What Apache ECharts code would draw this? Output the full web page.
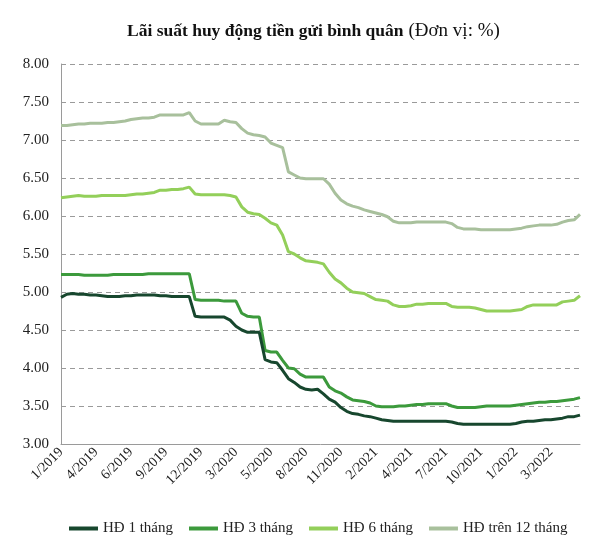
<!DOCTYPE html>
<html>
<head>
<meta charset="utf-8">
<script src="https://cdn.jsdelivr.net/npm/echarts@6/dist/echarts.min.js"></script>
<style>
html,body{margin:0;padding:0;background:#fff;}
#chart{width:600px;height:555px;}
</style>
</head>
<body>
<div id="chart"></div>
<script>
// Tick labels shown on the x axis (one every 6 bi-weekly points)
const tickLabels = ['1/2019','4/2019','6/2019','9/2019','12/2019','3/2020','5/2020','8/2020','11/2020','2/2021','4/2021','7/2021','10/2021','1/2022','3/2022'];
const pointsPerLabel = 6;

const seriesNames = ['HĐ 1 tháng','HĐ 3 tháng','HĐ 6 tháng','HĐ trên 12 tháng'];

const hd1 = [4.93,4.97,4.98,4.97,4.97,4.96,4.96,4.95,4.94,4.94,4.94,4.95,4.95,4.96,4.96,4.96,4.96,4.95,4.95,4.94,4.94,4.94,4.94,
  4.68,4.67,4.67,4.67,4.67,4.67,4.63,4.55,4.50,4.47,4.47,4.47,4.11,4.08,4.07,3.97,3.86,3.81,3.75,3.72,3.71,3.72,3.66,3.59,3.55,3.48,3.43,3.40,3.39,3.37,3.36,3.34,3.32,3.31,3.30,
  3.30,3.30,3.30,3.30,3.30,3.30,3.30,3.30,3.30,3.29,3.27,3.26,3.26,3.26,3.26,3.26,3.26,3.26,3.26,3.26,3.27,3.29,3.30,3.30,3.31,3.32,3.32,3.33,3.34,3.36,3.36,3.38];

const hd3 = [5.23,5.23,5.23,5.23,5.22,5.22,5.22,5.22,5.22,5.23,5.23,5.23,5.23,5.23,5.23,5.24,5.24,5.24,5.24,5.24,5.24,5.24,5.24,
  4.90,4.89,4.89,4.89,4.89,4.88,4.88,4.88,4.72,4.68,4.67,4.67,4.23,4.21,4.21,4.10,4.00,3.99,3.92,3.88,3.88,3.88,3.88,3.75,3.70,3.67,3.62,3.58,3.57,3.56,3.54,3.50,3.49,3.49,3.49,
  3.50,3.50,3.51,3.52,3.52,3.53,3.53,3.53,3.53,3.50,3.48,3.48,3.48,3.48,3.49,3.50,3.50,3.50,3.50,3.50,3.51,3.52,3.53,3.54,3.55,3.55,3.56,3.56,3.57,3.58,3.59,3.61];

const hd6 = [6.24,6.25,6.26,6.27,6.26,6.26,6.26,6.27,6.27,6.27,6.27,6.27,6.28,6.29,6.29,6.30,6.31,6.34,6.34,6.35,6.35,6.36,6.38,
  6.29,6.28,6.28,6.28,6.28,6.28,6.27,6.25,6.12,6.05,6.03,6.02,5.97,5.91,5.88,5.75,5.53,5.50,5.45,5.41,5.40,5.39,5.37,5.26,5.17,5.12,5.05,5.00,4.99,4.98,4.94,4.90,4.89,4.88,4.83,
  4.81,4.81,4.82,4.84,4.84,4.85,4.85,4.85,4.85,4.81,4.80,4.80,4.80,4.79,4.77,4.75,4.75,4.75,4.75,4.75,4.76,4.77,4.81,4.83,4.83,4.83,4.83,4.83,4.87,4.88,4.89,4.95];

const hd12 = [7.19,7.19,7.20,7.21,7.21,7.22,7.22,7.22,7.23,7.23,7.24,7.25,7.27,7.28,7.29,7.29,7.30,7.33,7.33,7.33,7.33,7.33,7.36,
  7.25,7.21,7.21,7.21,7.21,7.26,7.24,7.23,7.15,7.09,7.07,7.06,7.04,6.96,6.93,6.90,6.58,6.54,6.50,6.49,6.49,6.49,6.49,6.42,6.30,6.21,6.16,6.13,6.11,6.08,6.06,6.04,6.02,5.99,5.93,
  5.91,5.91,5.91,5.92,5.92,5.92,5.92,5.92,5.92,5.90,5.85,5.83,5.83,5.83,5.82,5.82,5.82,5.82,5.82,5.82,5.83,5.84,5.86,5.87,5.88,5.88,5.88,5.89,5.92,5.94,5.95,6.02];

const yTicks = {min: 3, max: 8, step: 0.5};

const categories = hd1.map((_, i) => (i % pointsPerLabel === 0 && tickLabels[i / pointsPerLabel]) ? tickLabels[i / pointsPerLabel] : '');

const colors = ['#17472e', '#3c9a3c', '#93cf5a', '#a8c09c'];
const serif = '"Liberation Serif", "DejaVu Serif", serif';

const chart = echarts.init(document.getElementById('chart'), null, {renderer: 'canvas'});
chart.setOption({
  animation: false,
  backgroundColor: '#fff',
  color: colors,
  title: {
    left: 122,
    top: 17,
    text: '{b|Lãi suất huy động tiền gửi bình quân} {n|(Đơn vị: %)}',
    textStyle: {
      rich: {
        b: {fontFamily: serif, fontWeight: 'bold', fontSize: 17.5, color: '#111'},
        n: {fontFamily: serif, fontWeight: 'normal', fontSize: 19, color: '#111'}
      }
    }
  },
  legend: {
    bottom: 14,
    left: 64,
    itemWidth: 29,
    itemHeight: 4,
    itemGap: 16,
    icon: 'rect',
    textStyle: {fontFamily: serif, fontSize: 15, color: '#222'},
    data: seriesNames
  },
  grid: {left: 61, right: 20, top: 64, bottom: 111, containLabel: false},
  xAxis: {
    type: 'category',
    boundaryGap: false,
    data: categories,
    axisLine: {show: true, lineStyle: {color: '#9a9a9a', width: 1}},
    axisTick: {show: false},
    axisLabel: {
      interval: pointsPerLabel - 1,
      rotate: 45,
      margin: 6,
      fontFamily: serif,
      fontSize: 14,
      color: '#222'
    },
    splitLine: {show: false}
  },
  yAxis: {
    type: 'value',
    min: yTicks.min,
    max: yTicks.max,
    interval: yTicks.step,
    axisLine: {show: true, lineStyle: {color: '#9a9a9a', width: 1}},
    axisTick: {show: false},
    axisLabel: {
      formatter: v => v.toFixed(2),
      margin: 12,
      fontFamily: serif,
      fontSize: 15,
      color: '#222'
    },
    splitLine: {show: true, lineStyle: {color: '#9a9a9a', type: [5, 4], width: 1}}
  },
  series: [
    {name: seriesNames[0], type: 'line', data: hd1, symbol: 'none', lineStyle: {width: 3, color: colors[0]}, z: 5},
    {name: seriesNames[1], type: 'line', data: hd3, symbol: 'none', lineStyle: {width: 3, color: colors[1]}, z: 4},
    {name: seriesNames[2], type: 'line', data: hd6, symbol: 'none', lineStyle: {width: 3, color: colors[2]}, z: 3},
    {name: seriesNames[3], type: 'line', data: hd12, symbol: 'none', lineStyle: {width: 3, color: colors[3]}, z: 2}
  ]
});
</script>
</body>
</html>
